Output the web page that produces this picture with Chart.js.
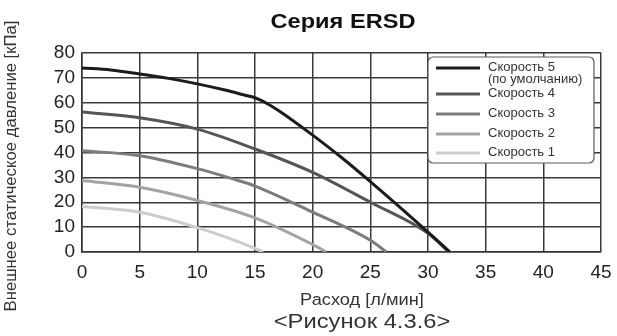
<!DOCTYPE html>
<html>
<head>
<meta charset="utf-8">
<script src="https://cdn.jsdelivr.net/npm/chart.js@4/dist/chart.umd.min.js"></script>
<style>
    html, body { margin: 0; padding: 0; background: #ffffff; }
    #wrap { width: 617px; height: 336px; position: relative; }
</style>
</head>
<body>
<div id="wrap"><canvas id="chart" width="617" height="336"></canvas></div>
<script>
// Data
const seriesLabels = ['Скорость 5', 'Скорость 4', 'Скорость 3', 'Скорость 2', 'Скорость 1'];
const seriesColors = ['#1b1b1b', '#555555', '#7c7c7c', '#a3a3a3', '#cdcdcd'];

const speed5Flow = [0, 2.5, 5, 7.5, 10, 12.5, 14, 15, 16, 17, 18, 20, 22.5, 25, 30, 31.9];
const speed5Pressure = [74, 73.2, 71.6, 69.8, 67.6, 65, 63.2, 62, 59.8, 57, 53.8, 47, 38, 28.3, 8, 0];

const speed4Flow = [0, 5, 10, 15, 20, 25, 30, 31.8];
const speed4Pressure = [56.3, 54, 49.4, 41.4, 32, 20, 7.5, 0];

const speed3Flow = [0, 5, 10, 13, 15, 20, 25, 26.4];
const speed3Pressure = [40.7, 38.7, 33.5, 29.5, 26.5, 16, 4.7, 0];

const speed2Flow = [0, 5, 10, 15, 20, 21.2];
const speed2Pressure = [28.7, 26, 20.7, 13.7, 3, 0];

const speed1Flow = [0, 5, 10, 15, 15.7];
const speed1Pressure = [18.3, 16, 9.8, 1.5, 0];

const xTicks = [0, 5, 10, 15, 20, 25, 30, 35, 40, 45];
const yTicks = [0, 10, 20, 30, 40, 50, 60, 70, 80];

const chartTitle = 'Серия ERSD';
const xTitle = 'Расход [л/мин]';
const yTitle = 'Внешнее статическое давление [кПа]';
const caption = '<Рисунок 4.3.6>';
const defaultNote = '(по умолчанию)';

const FONT = '"Liberation Sans", Arial, sans-serif';

function toPoints(xs, ys) {
    return xs.map((x, i) => ({ x: x, y: ys[i] }));
}

const flows = [speed5Flow, speed4Flow, speed3Flow, speed2Flow, speed1Flow];
const pressures = [speed5Pressure, speed4Pressure, speed3Pressure, speed2Pressure, speed1Pressure];

const datasets = seriesLabels.map((label, i) => ({
    label: label,
    data: toPoints(flows[i], pressures[i]),
    borderColor: seriesColors[i],
    borderWidth: 3,
    pointRadius: 0,
    fill: false,
    cubicInterpolationMode: 'monotone'
}));

// text drawn a bit wider, like the reference lettering
function wideText(ctx, text, x, y, font, stretch) {
    ctx.save();
    ctx.font = font;
    ctx.translate(x, y);
    ctx.scale(stretch, 1);
    ctx.fillText(text, 0, 0);
    ctx.restore();
}

// Titles, caption and the boxed legend, drawn on the canvas
const decorations = {
    id: 'decorations',
    afterDraw(chart) {
        const ctx = chart.ctx;
        ctx.save();
        ctx.textAlign = 'center';
        ctx.textBaseline = 'alphabetic';

        // chart title
        ctx.fillStyle = '#111111';
        wideText(ctx, chartTitle, 343, 28, 'bold 20.5px ' + FONT, 1.15);

        // y axis title
        ctx.fillStyle = '#333333';
        ctx.textBaseline = 'middle';
        ctx.font = '16.7px ' + FONT;
        ctx.translate(11, 166);
        ctx.rotate(-Math.PI / 2);
        ctx.fillText(yTitle, 0, 0);
        ctx.setTransform(1, 0, 0, 1, 0, 0);

        // x axis title and caption
        ctx.textBaseline = 'alphabetic';
        wideText(ctx, xTitle, 362, 305, '16.3px ' + FONT, 1.12);
        wideText(ctx, caption, 362, 328, '21px ' + FONT, 1.13);

        // legend box
        const bx = 428, by = 57, bw = 166, bh = 106, r = 5;
        ctx.beginPath();
        ctx.roundRect(bx, by, bw, bh, r);
        ctx.fillStyle = '#ffffff';
        ctx.fill();
        ctx.strokeStyle = '#5a5a5a';
        ctx.lineWidth = 1.2;
        ctx.stroke();

        const rows = [68, 94, 114, 134, 153];
        ctx.font = '13px ' + FONT;
        ctx.textAlign = 'left';
        ctx.textBaseline = 'middle';
        chart.data.datasets.forEach((ds, i) => {
            const y = rows[i];
            ctx.beginPath();
            ctx.moveTo(436, y);
            ctx.lineTo(480, y);
            ctx.strokeStyle = ds.borderColor;
            ctx.lineWidth = 3;
            ctx.stroke();
            ctx.fillStyle = '#333333';
            ctx.fillText(ds.label, 488, y - 1);
            if (i === 0) ctx.fillText(defaultNote, 488, y + 11);
        });

        ctx.restore();
    }
};

const ctx = document.getElementById('chart').getContext('2d');
new Chart(ctx, {
    type: 'line',
    data: { datasets: datasets },
    options: {
        responsive: false,
        animation: false,
        devicePixelRatio: 1,
        layout: { padding: { left: 20, right: 16, top: 53, bottom: 0 } },
        plugins: {
            legend: { display: false },
            tooltip: { enabled: false },
            title: { display: false }
        },
        scales: {
            x: {
                type: 'linear',
                min: xTicks[0],
                max: xTicks[xTicks.length - 1],
                afterFit(scale) {
                    scale.height = 84;
                    scale.paddingLeft = 0;
                    scale.paddingRight = 0;
                },
                grid: { color: '#3a3a3a', lineWidth: 1.5, drawTicks: false },
                border: { color: '#333333', width: 1.5 },
                ticks: {
                    stepSize: xTicks[1] - xTicks[0],
                    autoSkip: false,
                    color: '#222222',
                    padding: 9,
                    font: { family: FONT, size: 19 },
                    maxRotation: 0
                }
            },
            y: {
                min: yTicks[0],
                max: yTicks[yTicks.length - 1],
                afterFit(scale) { scale.width = 62; },
                grid: { color: '#3a3a3a', lineWidth: 1.5, drawTicks: false },
                border: { color: '#333333', width: 1.5 },
                ticks: {
                    stepSize: yTicks[1] - yTicks[0],
                    autoSkip: false,
                    color: '#222222',
                    padding: 7,
                    font: { family: FONT, size: 19 }
                }
            }
        }
    },
    plugins: [decorations]
});
</script>
</body>
</html>
